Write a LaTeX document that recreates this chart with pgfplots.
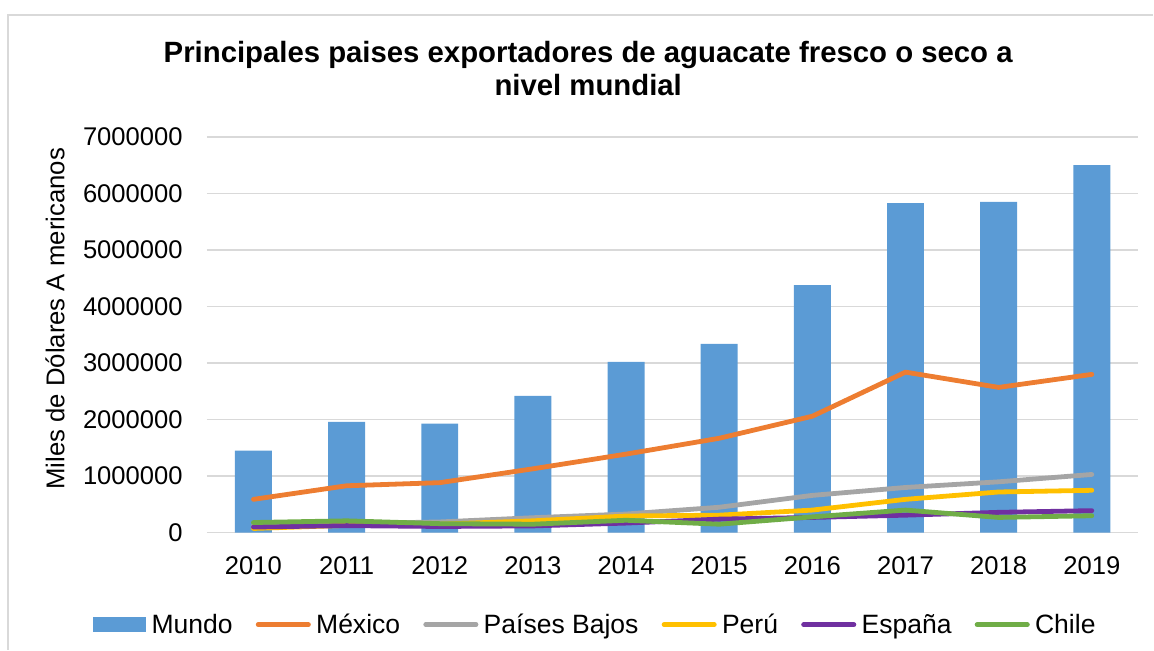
\documentclass[border=0pt]{standalone}
\usepackage{pgfplots}
\pgfplotsset{compat=1.18}
\usepackage{fontspec}
\setmainfont{Liberation Sans}
\definecolor{mundo}{HTML}{5B9BD5}
\definecolor{mex}{HTML}{ED7D31}
\definecolor{pb}{HTML}{A5A5A5}
\definecolor{peru}{HTML}{FFC000}
\definecolor{esp}{HTML}{7030A0}
\definecolor{chi}{HTML}{70AD47}
\definecolor{gridg}{HTML}{D9D9D9}
\begin{document}
\begin{tikzpicture}
\path (0,0) rectangle (865.5pt,487.5pt);
\draw[gridg, line width=1pt] (6pt,0) -- (6pt,476.25pt) -- (865.5pt,476.25pt);
\node[anchor=base, font=\fontsize{22}{24}\selectfont\bfseries] at (441.4pt,440.25pt) {Principales paises exportadores de aguacate fresco o seco a};
\node[anchor=base, font=\fontsize{22}{24}\selectfont\bfseries] at (441.4pt,416pt) {nivel mundial};
\node[rotate=90, font=\fontsize{19.3}{22}\selectfont] at (41.25pt,248.25pt) {Miles de Dólares A mericanos};
\begin{axis}[
  at={(155.25pt,87.75pt)}, anchor=south west,
  scale only axis, width=699pt, height=297pt,
  xmin=-0.5, xmax=9.5, ymin=0, ymax=7000000,
  xtick={0,1,2,3,4,5,6,7,8,9},
  xticklabels={2010,2011,2012,2013,2014,2015,2016,2017,2018,2019},
  ytick={0,1000000,2000000,3000000,4000000,5000000,6000000,7000000},
  scaled y ticks=false,
  yticklabel={\pgfmathprintnumber[fixed,precision=0,1000 sep={},assume math mode=true]{\tick}},
  yticklabel style={anchor=east, inner sep=0pt, xshift=-18pt, font=\fontsize{19.2}{22}\selectfont},
  xticklabel style={anchor=base, inner sep=0pt, yshift=-31.5pt, font=\fontsize{19.2}{22}\selectfont},
  axis line style={draw=none},
  major tick length=0pt, tick style={draw=none},
  ymajorgrids, grid style={color=gridg, line width=1pt},
  legend columns=6,
  legend style={at={(axis description cs:-0.1223,-0.2323)}, anchor=west,
    draw=none, fill=none, inner sep=0pt,
    font=\fontsize{19.9}{22}\selectfont,
    /tikz/every odd column/.append style={column sep=4pt},
    /tikz/every even column/.append style={column sep=17.4pt},
    nodes={inner sep=0pt}},
  every axis plot/.append style={line width=3.6pt, line cap=round, line join=round},
]
\addplot[ybar, bar width=27.75pt, bar shift=0pt, fill=mundo, draw=none, line width=0pt,
  legend image code/.code={\fill[mundo] (0pt,-5.6pt) rectangle (39.75pt,5.6pt);}]
  coordinates {(0,1450000)(1,1960000)(2,1930000)(3,2420000)(4,3020000)(5,3340000)(6,4380000)(7,5830000)(8,5850000)(9,6500000)};
\addlegendentry{Mundo}
\pgfplotsset{every axis plot/.append style={legend image code/.code={\draw[#1] (0pt,0pt) -- (37.7pt,0pt);}}}
\addplot[color=mex, no markers]
  coordinates {(0,590000)(1,830000)(2,885000)(3,1130000)(4,1390000)(5,1670000)(6,2060000)(7,2840000)(8,2570000)(9,2800000)};
\addlegendentry{México}
\addplot[color=pb, no markers]
  coordinates {(0,120000)(1,160000)(2,190000)(3,265000)(4,330000)(5,450000)(6,660000)(7,800000)(8,900000)(9,1030000)};
\addlegendentry{Países Bajos}
\addplot[color=peru, no markers]
  coordinates {(0,75000)(1,130000)(2,150000)(3,210000)(4,295000)(5,310000)(6,400000)(7,590000)(8,720000)(9,750000)};
\addlegendentry{Perú}
\addplot[color=esp, no markers]
  coordinates {(0,100000)(1,125000)(2,110000)(3,120000)(4,170000)(5,240000)(6,270000)(7,310000)(8,360000)(9,390000)};
\addlegendentry{España}
\addplot[color=chi, no markers]
  coordinates {(0,180000)(1,210000)(2,160000)(3,150000)(4,220000)(5,150000)(6,280000)(7,400000)(8,270000)(9,300000)};
\addlegendentry{Chile}
\end{axis}
\end{tikzpicture}
\end{document}
